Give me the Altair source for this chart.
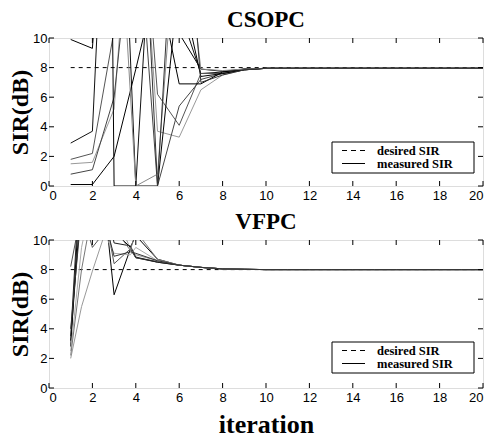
import altair as alt
import pandas as pd

# ---------------- data ----------------
iterations = [1, 2, 3, 4, 5, 6, 7, 8, 9, 10, 11, 12, 13, 14, 15, 16, 17, 18, 19, 20]

csopc_users = ["u1", "u2", "u3", "u4", "u5", "u6", "u7", "u8", "u9"]
csopc_u1 = [9.9, 9.3, 30, 18, 25, 10.3, 7.9, 7.75, 7.9, 7.95, 7.95, 7.95, 7.95, 7.95, 7.95, 7.95, 7.95, 7.95, 7.95, 7.95]
csopc_u2 = [2.9, 3.7, 35, 0, 25, 12, 7.6, 7.7, 7.9, 7.95, 7.95, 7.95, 7.95, 7.95, 7.95, 7.95, 7.95, 7.95, 7.95, 7.95]
csopc_u3 = [1.8, 2.2, 10.5, 25, 6.2, 4.1, 7.6, 7.6, 7.85, 7.95, 7.95, 7.95, 7.95, 7.95, 7.95, 7.95, 7.95, 7.95, 7.95, 7.95]
csopc_u4 = [1.5, 1.6, 5.2, 25, 3.7, 3.3, 6.5, 7.5, 7.85, 7.95, 7.95, 7.95, 7.95, 7.95, 7.95, 7.95, 7.95, 7.95, 7.95, 7.95]
csopc_u5 = [0.8, 1.1, 6.0, 20, 0, 5.4, 7.2, 7.6, 7.85, 7.95, 7.95, 7.95, 7.95, 7.95, 7.95, 7.95, 7.95, 7.95, 7.95, 7.95]
csopc_u6 = [0.1, 0.1, 2.0, 7.9, 14, 6.9, 6.9, 7.7, 7.9, 7.95, 7.95, 7.95, 7.95, 7.95, 7.95, 7.95, 7.95, 7.95, 7.95, 7.95]
csopc_u7 = [20, 150, 0, 0, 0, 14, 7.4, 7.6, 7.85, 7.95, 7.95, 7.95, 7.95, 7.95, 7.95, 7.95, 7.95, 7.95, 7.95, 7.95]
csopc_u8 = [15, 12, 25, 0, 0.8, 20, 7.9, 7.8, 7.9, 7.95, 7.95, 7.95, 7.95, 7.95, 7.95, 7.95, 7.95, 7.95, 7.95, 7.95]
csopc_u9 = [18, 20, 14, 30, 0, 25, 7.0, 7.5, 7.85, 7.95, 7.95, 7.95, 7.95, 7.95, 7.95, 7.95, 7.95, 7.95, 7.95, 7.95]
csopc_values = [csopc_u1, csopc_u2, csopc_u3, csopc_u4, csopc_u5, csopc_u6, csopc_u7, csopc_u8, csopc_u9]
csopc_grays = ["#000000", "#111111", "#555555", "#999999", "#444444", "#000000", "#000000", "#888888", "#333333"]

vfpc_x = [1, 1.5, 2, 2.7, 3, 3.75, 4, 5, 6, 7, 8, 9, 10, 11, 12, 13, 14, 15, 16, 17, 18, 19, 20]
vfpc_users = ["v1", "v2", "v3", "v4", "v5", "v6", "v7", "v8"]
vfpc_v1 = [2.0, 5.5, 7.9, 11, 12, 9.4, 9.0, 8.6, 8.3, 8.15, 8.05, 8.02, 8.0, 8.0, 8.0, 8.0, 8.0, 8.0, 8.0, 8.0, 8.0, 8.0, 8.0]
vfpc_v2 = [3.2, 13, 11, 10.5, 6.3, 9.4, 8.8, 8.5, 8.3, 8.15, 8.05, 8.02, 8.0, 8.0, 8.0, 8.0, 8.0, 8.0, 8.0, 8.0, 8.0, 8.0, 8.0]
vfpc_v3 = [8.2, 12, 9.5, 10.8, 8.4, 9.4, 8.8, 8.55, 8.3, 8.15, 8.05, 8.02, 8.0, 8.0, 8.0, 8.0, 8.0, 8.0, 8.0, 8.0, 8.0, 8.0, 8.0]
vfpc_v4 = [2.8, 15, 12, 10.1, 10.6, 9.5, 10.3, 8.7, 8.3, 8.15, 8.05, 8.02, 8.0, 8.0, 8.0, 8.0, 8.0, 8.0, 8.0, 8.0, 8.0, 8.0, 8.0]
vfpc_v5 = [2.5, 9.5, 13, 10, 9.1, 9.0, 9.5, 8.6, 8.3, 8.15, 8.05, 8.02, 8.0, 8.0, 8.0, 8.0, 8.0, 8.0, 8.0, 8.0, 8.0, 8.0, 8.0]
vfpc_v6 = [3.5, 16, 10.4, 12, 9.8, 9.6, 8.85, 8.5, 8.3, 8.15, 8.05, 8.02, 8.0, 8.0, 8.0, 8.0, 8.0, 8.0, 8.0, 8.0, 8.0, 8.0, 8.0]
vfpc_v7 = [2.2, 8.0, 12, 10, 10.8, 9.3, 10.6, 8.7, 8.3, 8.15, 8.05, 8.02, 8.0, 8.0, 8.0, 8.0, 8.0, 8.0, 8.0, 8.0, 8.0, 8.0, 8.0]
vfpc_v8 = [4.0, 12, 14, 10.6, 8.9, 9.2, 9.1, 8.6, 8.3, 8.15, 8.05, 8.02, 8.0, 8.0, 8.0, 8.0, 8.0, 8.0, 8.0, 8.0, 8.0, 8.0, 8.0]
vfpc_values = [vfpc_v1, vfpc_v2, vfpc_v3, vfpc_v4, vfpc_v5, vfpc_v6, vfpc_v7, vfpc_v8]
vfpc_grays = ["#999999", "#000000", "#555555", "#000000", "#aaaaaa", "#222222", "#777777", "#333333"]

desired_x = [1, 20]
desired_y = [8, 8]

x_ticks = [0, 2, 4, 6, 8, 10, 12, 14, 16, 18, 20]
y_ticks = [0, 2, 4, 6, 8, 10]
legend_labels = ["desired SIR", "measured SIR"]

# ---------------- layout constants ----------------
W, H = 434, 148
TICK = 5
SERIF = "Liberation Serif"
SANS = "Liberation Sans Narrow, Liberation Sans, Arial"


def build_measured(users, xs_list, values):
    rows = []
    for u, ys in zip(users, values):
        for x, y in zip(xs_list, ys):
            rows.append({"user": u, "x": x, "y": y})
    return pd.DataFrame(rows)


desired_df = pd.DataFrame({"x": desired_x, "y": desired_y})
xt_df = pd.DataFrame({"t": x_ticks})
yt_df = pd.DataFrame({"t": y_ticks})


def legend_layers(top):
    # legend box inside the plot, lower right
    box_df = pd.DataFrame({"k": [0]})
    lab0 = pd.DataFrame({"label": [legend_labels[0]]})
    lab1 = pd.DataFrame({"label": [legend_labels[1]]})
    r0 = top + 8.5
    r1 = top + 21.5
    box = alt.Chart(box_df).mark_rect(fill="white", stroke="black", strokeWidth=1).encode(
        x=alt.value(283), x2=alt.value(425), y=alt.value(top), y2=alt.value(top + 31))
    sym0 = alt.Chart(lab0).mark_rule(color="black", strokeWidth=1, strokeDash=[5, 4]).encode(
        x=alt.value(293), x2=alt.value(316), y=alt.value(r0))
    sym1 = alt.Chart(lab1).mark_rule(color="black", strokeWidth=1).encode(
        x=alt.value(293), x2=alt.value(316), y=alt.value(r1))
    txt0 = alt.Chart(lab0).mark_text(font=SERIF, fontSize=12.5, fontWeight="bold", align="left",
                                     baseline="middle", color="black").encode(
        x=alt.value(328), y=alt.value(r0), text="label:N")
    txt1 = alt.Chart(lab1).mark_text(font=SERIF, fontSize=12.5, fontWeight="bold", align="left",
                                     baseline="middle", color="black").encode(
        x=alt.value(328), y=alt.value(r1), text="label:N")
    return [box, sym0, sym1, txt0, txt1]


def panel(title, meas_df, users, grays, show_xtitle, legend_top):
    xs = alt.Scale(domain=[0, 20], nice=False, zero=False)
    ys = alt.Scale(domain=[0, 10], nice=False)
    xaxis = alt.Axis(values=x_ticks, ticks=False, domain=False, grid=False, labelOverlap=False,
                     labelFont=SANS, labelFontSize=13, labelColor="black", labelPadding=3,
                     titleFont=SERIF, titleFontSize=26, titleFontWeight="bold", titleColor="black",
                     titlePadding=7)
    yaxis = alt.Axis(values=y_ticks, ticks=False, domain=False, grid=False, labelOverlap=False,
                     labelFont=SANS, labelFontSize=13, labelColor="black", labelPadding=2,
                     titleFont=SERIF, titleFontSize=24, titleFontWeight="bold", titleColor="black",
                     titlePadding=0)
    xtitle = "iteration" if show_xtitle else ""

    desired = alt.Chart(desired_df).mark_line(color="black", strokeWidth=1, strokeDash=[4, 4],
                                              clip=True).encode(
        x=alt.X("x:Q", scale=xs, axis=xaxis, title=xtitle),
        y=alt.Y("y:Q", scale=ys, axis=yaxis, title="SIR(dB)"),
    )
    measured = alt.Chart(meas_df).mark_line(strokeWidth=1, clip=True).encode(
        x=alt.X("x:Q", scale=xs, axis=xaxis, title=xtitle),
        y=alt.Y("y:Q", scale=ys, axis=yaxis, title="SIR(dB)"),
        color=alt.Color("user:N", scale=alt.Scale(domain=users, range=grays), legend=None),
        detail="user:N",
        order="x:Q",
    )
    xt_bottom = alt.Chart(xt_df).mark_rule(color="black", strokeWidth=1).encode(
        x=alt.X("t:Q", scale=xs, axis=xaxis, title=xtitle), y=alt.value(H), y2=alt.value(H - TICK))
    xt_top = alt.Chart(xt_df).mark_rule(color="black", strokeWidth=1).encode(
        x=alt.X("t:Q", scale=xs, axis=xaxis, title=xtitle), y=alt.value(0), y2=alt.value(TICK))
    yt_left = alt.Chart(yt_df).mark_rule(color="black", strokeWidth=1).encode(
        y=alt.Y("t:Q", scale=ys, axis=yaxis, title="SIR(dB)"), x=alt.value(0), x2=alt.value(TICK))
    yt_right = alt.Chart(yt_df).mark_rule(color="black", strokeWidth=1).encode(
        y=alt.Y("t:Q", scale=ys, axis=yaxis, title="SIR(dB)"), x=alt.value(W), x2=alt.value(W - TICK))

    layers = [desired, measured, xt_bottom, xt_top, yt_left, yt_right] + legend_layers(legend_top)
    return alt.layer(*layers).properties(
        width=W, height=H,
        title=alt.TitleParams(title, font=SERIF, fontSize=23, fontWeight="bold",
                              color="black", anchor="middle", baseline="top", offset=0,
                              frame="group"),
    )


top = panel("CSOPC", build_measured(csopc_users, iterations, csopc_values),
            csopc_users, csopc_grays, False, 104)
bottom = panel("VFPC", build_measured(vfpc_users, vfpc_x, vfpc_values),
               vfpc_users, vfpc_grays, True, 102)

chart = alt.vconcat(top, bottom, spacing=7).resolve_scale(
    color="independent", x="independent", y="independent"
).properties(padding={"left": 0, "top": 0, "right": 0, "bottom": 0}).configure_view(
    stroke="black", strokeWidth=1
).configure(background="white")

chart.save("out.html", embed_options={"renderer": "svg", "actions": False})
